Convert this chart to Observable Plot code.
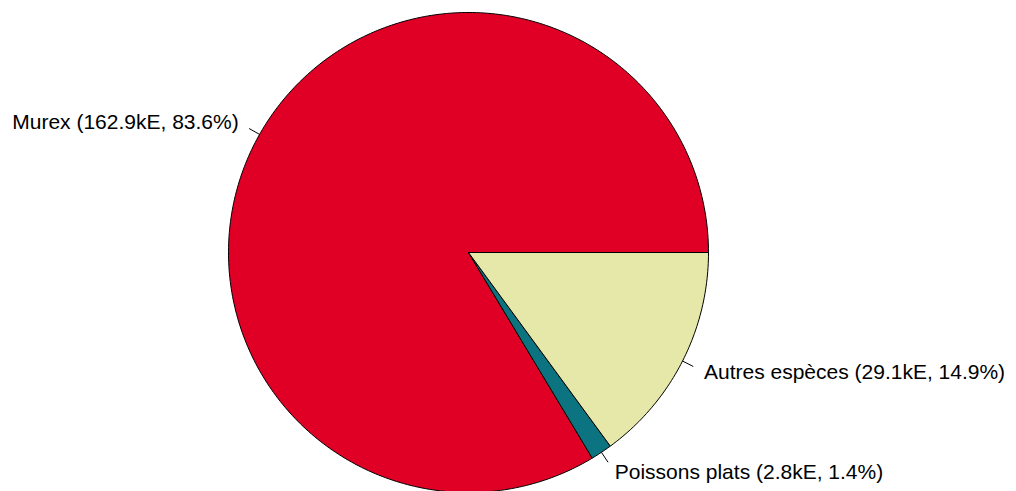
<!DOCTYPE html>
<html>
<head>
<meta charset="utf-8">
<script src="https://cdn.jsdelivr.net/npm/d3@7"></script>
<script src="https://cdn.jsdelivr.net/npm/@observablehq/plot@0.6"></script>
<style>
  html, body { margin: 0; padding: 0; background: #fff; }
  #chart { width: 1016px; height: 491px; }
</style>
</head>
<body>
<div id="chart"></div>
<script>
const categories = ["Murex", "Poissons plats", "Autres espèces"];
const values = [162.9, 2.8, 29.1];            // kE
const percentLabels = ["83.6%", "1.4%", "14.9%"];
const colors = ["#E00026", "#0B7480", "#E6E8AA"];

const W = 1016, H = 491;
const cx = 468, cy = 252, R = 240; // pixel geometry of the pie

const total = d3.sum(values);
let acc = 0;
const slices = categories.map((c, i) => {
  const a0 = acc / total * 2 * Math.PI;
  acc += values[i];
  const a1 = acc / total * 2 * Math.PI;
  return {cat: c, i, a0, a1, mid: (a0 + a1) / 2};
});

// polygon outlines in unit-circle coordinates
const poly = [];
for (const s of slices) {
  poly.push({cat: s.cat, x: 0, y: 0});
  const n = Math.max(2, Math.ceil((s.a1 - s.a0) / (2 * Math.PI) * 400));
  for (let k = 0; k <= n; k++) {
    const a = s.a0 + (s.a1 - s.a0) * k / n;
    poly.push({cat: s.cat, x: Math.cos(a), y: Math.sin(a)});
  }
  poly.push({cat: s.cat, x: 0, y: 0});
}

const ticks = slices.map(s => ({
  x1: Math.cos(s.mid), y1: Math.sin(s.mid),
  x2: 1.05 * Math.cos(s.mid), y2: 1.05 * Math.sin(s.mid)
}));
const labels = slices.map(s => ({
  x: 1.1 * Math.cos(s.mid), y: 1.1 * Math.sin(s.mid),
  anchor: Math.cos(s.mid) < 0 ? "end" : "start",
  text: `${s.cat} (${values[s.i].toFixed(1)}kE, ${percentLabels[s.i]})`
}));

const chart = Plot.plot({
  width: W, height: H,
  margin: 0,
  x: {domain: [-cx / R, (W - cx) / R], range: [0, W], axis: null},
  y: {domain: [(cy - H) / R, cy / R], range: [H, 0], axis: null},
  color: {domain: categories, range: colors},
  style: {fontFamily: "Liberation Sans, Arial, sans-serif", background: "#fff"},
  marks: [
    Plot.line(poly, {x: "x", y: "y", z: "cat", fill: "cat", stroke: "#000", strokeWidth: 1, curve: "linear"}),
    Plot.link(ticks, {x1: "x1", y1: "y1", x2: "x2", y2: "y2", stroke: "#000", strokeWidth: 1}),
    Plot.text(labels.filter(d => d.anchor === "end"), {x: "x", y: "y", text: "text", textAnchor: "end", fontSize: 21, fill: "#000"}),
    Plot.text(labels.filter(d => d.anchor === "start"), {x: "x", y: "y", text: "text", textAnchor: "start", fontSize: 21, fill: "#000"})
  ]
});
document.getElementById("chart").appendChild(chart);
</script>
</body>
</html>
